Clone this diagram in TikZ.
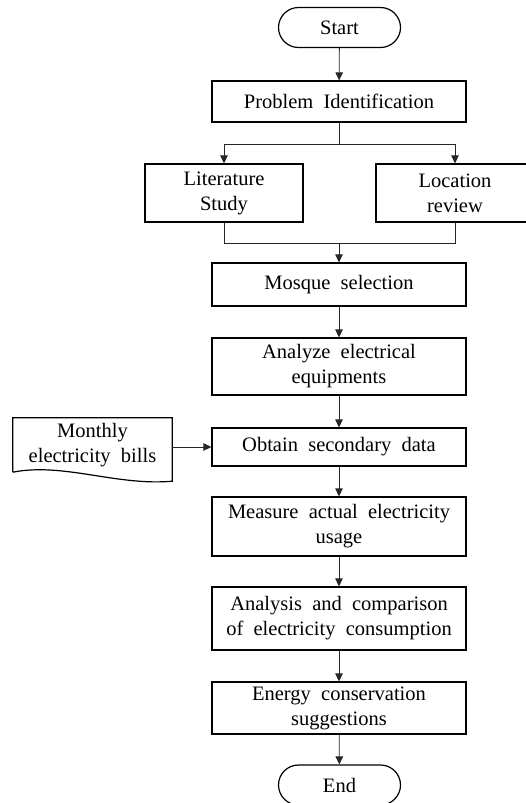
\documentclass[tikz,border=0pt]{standalone}
\usepackage{fontspec}
\setmainfont{Liberation Serif}
\usetikzlibrary{arrows.meta}
\begin{document}
\begin{tikzpicture}[x=1pt,y=-1pt,
  every node/.style={font=\fontsize{20.5}{25}\selectfont, align=center, inner sep=0pt},
  box/.style={draw, line width=1.2pt, minimum width=254pt},
  term/.style={draw, line width=1.2pt, minimum width=122pt, minimum height=40pt, rounded corners=20pt},
  conn/.style={line width=0.8pt, draw=black!85},
  arr/.style={conn, -{Triangle[length=8pt,width=7.5pt]}}]
\useasboundingbox (0,0) rectangle (526,803);
\clip (0,0) rectangle (526,803);
\node[term] (start) at (339.5,27.5) {Start};
\node[box, minimum height=41pt] (prob) at (339,101.5) {Problem\ \ Identification};
\node[box, minimum width=158pt, minimum height=58pt] (lit) at (224,193) {Literature\\Study};
\node[box, minimum width=158pt, minimum height=58pt] (loc) at (455,193) {Location\\review};
\node[box, minimum height=43pt] (mos) at (339,284.5) {Mosque\ \ selection};
\node[box, minimum height=57pt] (ana) at (339,366.5) {Analyze\ \ electrical\\equipments};
\node[box, minimum height=38pt] (obt) at (339,447) {Obtain\ \ secondary\ \ data};
\node[box, minimum height=59pt] (mea) at (339,526.5) {Measure\ \ actual\ \ electricity\\usage};
\node[box, minimum height=63pt] (cmp) at (339,618.5) {Analysis\ \ and\ \ comparison\\of\ \ electricity\ \ consumption};
\node[box, minimum height=52pt] (ene) at (339,708) {Energy\ \ conservation\\suggestions};
\node[term] (end) at (339.5,785) {End};
\node[minimum width=159pt, minimum height=54pt] (doc) at (92.5,445) {Monthly\\electricity\ \ bills};
\draw[line width=1.2pt] (doc.south west) -- (doc.north west) -- (doc.north east) -- ([yshift=-9pt]doc.south east)
  .. controls ([xshift=-55pt,yshift=-14pt]doc.south east) and ([xshift=50pt,yshift=10pt]doc.south west) .. (doc.south west);
\coordinate (sp) at (339,144);
\coordinate (mg) at (339,243);
\draw[arr] (start) -- (prob);
\draw[conn] (prob.south) -- (sp);
\draw[arr] (sp) -| (lit.north);
\draw[arr] (sp) -| (loc.north);
\draw[conn] (lit.south) |- (mg);
\draw[conn] (loc.south) |- (mg);
\draw[arr] (mg) -- (mos.north);
\draw[arr] (mos) -- (ana);
\draw[arr] (ana) -- (obt);
\draw[arr] (obt) -- (mea);
\draw[arr] (mea) -- (cmp);
\draw[arr] (cmp) -- (ene);
\draw[arr] (ene) -- (end);
\draw[arr] (obt.west -| doc.east) -- (obt.west);
\end{tikzpicture}
\end{document}
